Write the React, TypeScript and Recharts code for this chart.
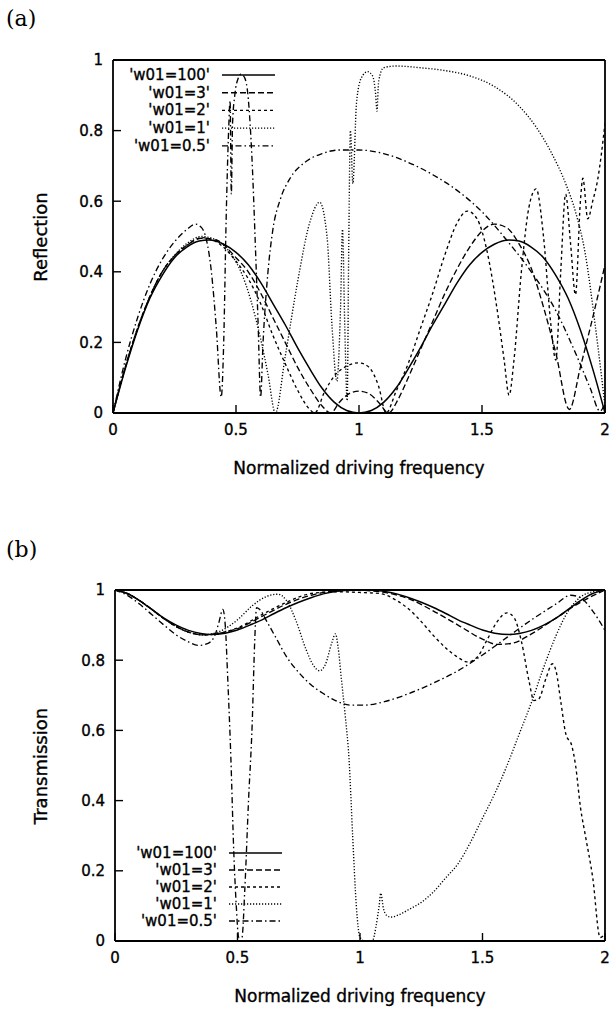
import { LineChart, Line, XAxis, YAxis } from "recharts";

type Pt = [number, number];

const freqTicks = [0, 0.5, 1, 1.5, 2];
const levelTicks = [0, 0.2, 0.4, 0.6, 0.8, 1];
const seriesNames = ["'w01=100'", "'w01=3'", "'w01=2'", "'w01=1'", "'w01=0.5'"];

// reflection, panel (a)
const reflW100: Pt[] = [
  [0, 0], [0.05, 0.125], [0.1, 0.235], [0.15, 0.325], [0.2, 0.39], [0.25, 0.44], [0.3, 0.47],
  [0.35, 0.487], [0.39, 0.49], [0.45, 0.478], [0.5, 0.455], [0.55, 0.42], [0.6, 0.37], [0.65, 0.31],
  [0.7, 0.25], [0.75, 0.185], [0.8, 0.125], [0.85, 0.07], [0.9, 0.03], [0.95, 0.007], [1, 0],
  [1.05, 0.007], [1.1, 0.03], [1.15, 0.07], [1.2, 0.125], [1.25, 0.185], [1.3, 0.25], [1.35, 0.31],
  [1.4, 0.37], [1.45, 0.42], [1.5, 0.455], [1.55, 0.478], [1.61, 0.49], [1.65, 0.487], [1.7, 0.47],
  [1.75, 0.44], [1.8, 0.39], [1.85, 0.325], [1.9, 0.235], [1.95, 0.125], [2, 0],
];
const reflW3: Pt[] = [
  [0, 0], [0.05, 0.13], [0.1, 0.24], [0.15, 0.33], [0.2, 0.4], [0.25, 0.445], [0.3, 0.475],
  [0.36, 0.495], [0.42, 0.49], [0.5, 0.44], [0.55, 0.4], [0.6, 0.34], [0.65, 0.27], [0.7, 0.2],
  [0.75, 0.13], [0.8, 0.07], [0.85, 0.02], [0.885, 0], [0.92, 0.03], [0.96, 0.055], [1, 0.062],
  [1.04, 0.055], [1.08, 0.03], [1.12, 0], [1.16, 0.04], [1.2, 0.1], [1.25, 0.18], [1.3, 0.26],
  [1.35, 0.34], [1.4, 0.41], [1.45, 0.47], [1.5, 0.515], [1.55, 0.535], [1.6, 0.525], [1.65, 0.48],
  [1.7, 0.41], [1.75, 0.3], [1.8, 0.17], [1.855, 0.01], [1.9, 0.13], [1.95, 0.27], [2, 0.42],
];
const reflW2: Pt[] = [
  [0, 0], [0.05, 0.13], [0.1, 0.24], [0.15, 0.33], [0.2, 0.4], [0.25, 0.445], [0.3, 0.475],
  [0.36, 0.497], [0.42, 0.485], [0.5, 0.43], [0.55, 0.38], [0.6, 0.31], [0.65, 0.22], [0.7, 0.14],
  [0.75, 0.065], [0.8, 0.01], [0.82, 0], [0.86, 0.06], [0.9, 0.105], [0.95, 0.133], [1, 0.142],
  [1.04, 0.13], [1.08, 0.075], [1.11, 0], [1.15, 0.06], [1.2, 0.14], [1.25, 0.24], [1.3, 0.34],
  [1.35, 0.45], [1.4, 0.54], [1.44, 0.572], [1.48, 0.55], [1.52, 0.46], [1.56, 0.3], [1.59, 0.15],
  [1.61, 0.05], [1.63, 0.15], [1.66, 0.4], [1.69, 0.58], [1.72, 0.635], [1.75, 0.5], [1.78, 0.25],
  [1.8, 0.15], [1.82, 0.4], [1.84, 0.62], [1.86, 0.48], [1.88, 0.335], [1.9, 0.6], [1.91, 0.665],
  [1.93, 0.55], [1.95, 0.6], [1.97, 0.66], [2, 0.82],
];
const reflW1: Pt[] = [
  [0, 0], [0.05, 0.13], [0.1, 0.24], [0.15, 0.33], [0.2, 0.4], [0.25, 0.447], [0.3, 0.48],
  [0.36, 0.5], [0.42, 0.49], [0.48, 0.45], [0.52, 0.4], [0.56, 0.32], [0.6, 0.21], [0.63, 0.11],
  [0.66, 0], [0.7, 0.16], [0.75, 0.37], [0.8, 0.54], [0.84, 0.597], [0.87, 0.5], [0.89, 0.25],
  [0.91, 0.09], [0.925, 0.3], [0.933, 0.52], [0.942, 0.25], [0.952, 0.035], [0.958, 0.45],
  [0.965, 0.8], [0.975, 0.65], [0.99, 0.88], [1.01, 0.95], [1.035, 0.967], [1.055, 0.955],
  [1.068, 0.9], [1.073, 0.855], [1.08, 0.94], [1.1, 0.978], [1.15, 0.983], [1.25, 0.978],
  [1.35, 0.97], [1.45, 0.955], [1.55, 0.925], [1.65, 0.87], [1.72, 0.81], [1.78, 0.74],
  [1.84, 0.65], [1.88, 0.57], [1.92, 0.45], [1.96, 0.25], [2, 0.02],
];
const reflW05: Pt[] = [
  [0, 0], [0.05, 0.15], [0.1, 0.27], [0.15, 0.365], [0.2, 0.435], [0.25, 0.485], [0.3, 0.52],
  [0.335, 0.535], [0.36, 0.525], [0.38, 0.49], [0.4, 0.4], [0.42, 0.24], [0.44, 0.045], [0.45, 0.2],
  [0.46, 0.55], [0.47, 0.8], [0.476, 0.885], [0.481, 0.62], [0.486, 0.82], [0.495, 0.9], [0.51, 0.95],
  [0.52, 0.96], [0.535, 0.95], [0.55, 0.89], [0.565, 0.72], [0.58, 0.45], [0.59, 0.25], [0.6, 0.045],
  [0.61, 0.2], [0.63, 0.4], [0.65, 0.52], [0.68, 0.605], [0.72, 0.665], [0.78, 0.71], [0.85, 0.735],
  [0.92, 0.745], [1, 0.745], [1.1, 0.735], [1.2, 0.71], [1.3, 0.675], [1.4, 0.63], [1.5, 0.57],
  [1.6, 0.49], [1.7, 0.4], [1.8, 0.29], [1.88, 0.17], [1.94, 0.07], [1.98, 0.005], [2, 0.03],
];

// transmission, panel (b)
const transW100: Pt[] = [
  [0, 1], [0.05, 0.99], [0.1, 0.97], [0.15, 0.945], [0.2, 0.92], [0.25, 0.9], [0.3, 0.885],
  [0.35, 0.876], [0.39, 0.873], [0.45, 0.877], [0.5, 0.886], [0.55, 0.9], [0.6, 0.915], [0.65, 0.933],
  [0.7, 0.95], [0.75, 0.965], [0.8, 0.978], [0.85, 0.989], [0.9, 0.996], [0.95, 0.999], [1, 1],
  [1.05, 0.999], [1.1, 0.996], [1.15, 0.989], [1.2, 0.978], [1.25, 0.965], [1.3, 0.95], [1.35, 0.933],
  [1.4, 0.915], [1.45, 0.9], [1.5, 0.886], [1.55, 0.877], [1.61, 0.873], [1.65, 0.876], [1.7, 0.885],
  [1.75, 0.9], [1.8, 0.92], [1.85, 0.945], [1.9, 0.97], [1.95, 0.99], [2, 1],
];
const transW3: Pt[] = [
  [0, 1], [0.05, 0.99], [0.1, 0.97], [0.15, 0.945], [0.2, 0.918], [0.25, 0.896], [0.3, 0.88],
  [0.36, 0.872], [0.42, 0.876], [0.5, 0.89], [0.6, 0.925], [0.7, 0.96], [0.8, 0.985], [0.9, 0.997],
  [1, 0.999], [1.1, 0.993], [1.2, 0.975], [1.3, 0.94], [1.4, 0.9], [1.5, 0.86], [1.56, 0.845],
  [1.62, 0.848], [1.7, 0.875], [1.8, 0.92], [1.9, 0.965], [2, 1],
];
const transW2: Pt[] = [
  [0, 1], [0.05, 0.99], [0.1, 0.97], [0.15, 0.945], [0.2, 0.918], [0.25, 0.896], [0.3, 0.88],
  [0.36, 0.872], [0.42, 0.876], [0.5, 0.892], [0.6, 0.93], [0.7, 0.965], [0.8, 0.99], [0.9, 0.995],
  [1, 0.993], [1.08, 0.99], [1.15, 0.97], [1.2, 0.945], [1.25, 0.91], [1.3, 0.87], [1.35, 0.835],
  [1.4, 0.808], [1.44, 0.795], [1.48, 0.81], [1.52, 0.86], [1.56, 0.91], [1.6, 0.935], [1.63, 0.92],
  [1.66, 0.85], [1.69, 0.74], [1.71, 0.685], [1.73, 0.69], [1.76, 0.75], [1.785, 0.79], [1.8, 0.77],
  [1.82, 0.68], [1.84, 0.59], [1.865, 0.555], [1.88, 0.5], [1.9, 0.38], [1.92, 0.3], [1.95, 0.18],
  [1.98, 0.01], [2, 0.02],
];
const transW1: Pt[] = [
  [0, 1], [0.05, 0.99], [0.1, 0.97], [0.15, 0.945], [0.2, 0.918], [0.25, 0.896], [0.3, 0.88],
  [0.36, 0.872], [0.42, 0.88], [0.5, 0.915], [0.56, 0.955], [0.62, 0.982], [0.665, 0.988], [0.7, 0.97],
  [0.74, 0.91], [0.78, 0.83], [0.81, 0.785], [0.835, 0.77], [0.86, 0.79], [0.885, 0.85], [0.9, 0.875],
  [0.91, 0.84], [0.925, 0.74], [0.94, 0.64], [0.955, 0.52], [0.97, 0.3], [0.985, 0.1], [1, 0.01],
  [1.02, 0], [1.05, 0], [1.065, 0.04], [1.078, 0.1], [1.085, 0.136], [1.095, 0.095], [1.11, 0.072],
  [1.125, 0.068], [1.16, 0.075], [1.2, 0.09], [1.25, 0.11], [1.3, 0.14], [1.35, 0.18], [1.4, 0.22],
  [1.45, 0.28], [1.5, 0.35], [1.55, 0.42], [1.6, 0.5], [1.65, 0.59], [1.7, 0.68], [1.75, 0.78],
  [1.8, 0.87], [1.85, 0.94], [1.9, 0.98], [1.95, 0.995], [2, 1],
];
const transW05: Pt[] = [
  [0, 1], [0.05, 0.985], [0.1, 0.96], [0.15, 0.93], [0.2, 0.9], [0.25, 0.872], [0.3, 0.852],
  [0.34, 0.842], [0.38, 0.848], [0.41, 0.875], [0.425, 0.91], [0.44, 0.945], [0.45, 0.9], [0.46, 0.75],
  [0.473, 0.52], [0.485, 0.25], [0.495, 0.1], [0.505, 0.01], [0.518, 0.01], [0.53, 0.15], [0.545, 0.4],
  [0.56, 0.62], [0.57, 0.85], [0.578, 0.95], [0.59, 0.945], [0.62, 0.91], [0.66, 0.86], [0.7, 0.81],
  [0.75, 0.765], [0.8, 0.73], [0.85, 0.705], [0.9, 0.685], [0.96, 0.672], [1.02, 0.672], [1.1, 0.682],
  [1.2, 0.705], [1.3, 0.735], [1.4, 0.77], [1.5, 0.815], [1.6, 0.865], [1.7, 0.915], [1.8, 0.96],
  [1.86, 0.985], [1.9, 0.978], [1.95, 0.94], [2, 0.885],
];

const dashes = ["", "6 3", "3 3", "1.2 1.8", "6 3 1.5 3"];
const sans = "'DejaVu Sans', sans-serif";
const toRows = (pts: Pt[]) => pts.map(([f, v]) => ({ f, v }));
const tickStyle = { fill: "#000", stroke: "#000", strokeWidth: 0.35, fontSize: 15, fontFamily: sans };

type PanelProps = {
  top: number;
  series: Pt[][];
  plotLeft: number;
  bottomMargin: number;
  legendX: number;
  legendY: number;
  legendStep: number;
};

const Panel = ({ top, series, plotLeft, bottomMargin, legendX, legendY, legendStep }: PanelProps) => (
  <div style={{ position: "absolute", left: 0, top, width: 611, height: 450 }}>
    <LineChart width={611} height={450} margin={{ top: 59, right: 5, bottom: bottomMargin, left: 0 }}>
      <XAxis
        xAxisId="b"
        type="number"
        dataKey="f"
        domain={[0, 2]}
        ticks={freqTicks}
        allowDataOverflow
        height={30}
        tickSize={-8}
        tickMargin={19}
        axisLine={{ stroke: "#000", strokeWidth: 1.8 }}
        tickLine={{ stroke: "#000", strokeWidth: 1.4 }}
        tick={tickStyle}
      />
      <XAxis
        xAxisId="t"
        orientation="top"
        type="number"
        dataKey="f"
        domain={[0, 2]}
        ticks={freqTicks}
        allowDataOverflow
        height={1}
        tickSize={-8}
        tick={false}
        axisLine={{ stroke: "#000", strokeWidth: 1.8 }}
        tickLine={{ stroke: "#000", strokeWidth: 1.4 }}
      />
      <YAxis
        yAxisId="l"
        type="number"
        domain={[0, 1]}
        ticks={levelTicks}
        allowDataOverflow
        width={plotLeft}
        tickSize={-8}
        tickMargin={18}
        axisLine={{ stroke: "#000", strokeWidth: 1.8 }}
        tickLine={{ stroke: "#000", strokeWidth: 1.4 }}
        tick={tickStyle}
      />
      <YAxis
        yAxisId="r"
        orientation="right"
        type="number"
        domain={[0, 1]}
        ticks={levelTicks}
        allowDataOverflow
        width={1}
        tickSize={-8}
        tick={false}
        axisLine={{ stroke: "#000", strokeWidth: 1.8 }}
        tickLine={{ stroke: "#000", strokeWidth: 1.4 }}
      />
      {series.map((pts, i) => (
        <Line
          key={seriesNames[i]}
          xAxisId="b"
          yAxisId="l"
          data={toRows(pts)}
          dataKey="v"
          type="monotone"
          stroke="#000"
          strokeWidth={i === 0 ? 1.5 : 1.35}
          strokeDasharray={dashes[i]}
          dot={false}
          activeDot={false}
          isAnimationActive={false}
        />
      ))}
    </LineChart>
    <svg width={611} height={450} style={{ position: "absolute", left: 0, top: 0, pointerEvents: "none" }}>
      {seriesNames.map((name, i) => (
        <g key={name}>
          <text
            x={legendX}
            y={legendY + i * legendStep}
            textAnchor="end"
            dominantBaseline="central"
            fontFamily="DejaVu Sans"
            fontSize={15}
            fill="#000"
            stroke="#000"
            strokeWidth={0.35}
          >
            {name}
          </text>
          <line
            x1={legendX + 12}
            x2={legendX + 65}
            y1={legendY + i * legendStep}
            y2={legendY + i * legendStep}
            stroke="#000"
            strokeWidth={i === 0 ? 1.5 : 1.35}
            strokeDasharray={dashes[i]}
          />
        </g>
      ))}
    </svg>
  </div>
);

const textBase: React.CSSProperties = {
  position: "absolute",
  color: "#000",
  whiteSpace: "nowrap",
  WebkitTextStroke: "0.35px #000",
};

export default function App() {
  return (
    <div style={{ position: "absolute", left: 0, top: 0, width: 611, height: 1011, background: "#fff" }}>
      <div style={{ ...textBase, left: 6, top: 6, fontFamily: "'DejaVu Serif', serif", fontSize: 22, WebkitTextStroke: "0" }}>(a)</div>
      <div style={{ ...textBase, left: 6, top: 537, fontFamily: "'DejaVu Serif', serif", fontSize: 22, WebkitTextStroke: "0" }}>(b)</div>

      <Panel
        top={0}
        series={[reflW100, reflW3, reflW2, reflW1, reflW05]}
        plotLeft={113}
        bottomMargin={7}
        legendX={210}
        legendY={75}
        legendStep={17.7}
      />
      <Panel
        top={530}
        series={[transW100, transW3, transW2, transW1, transW05]}
        plotLeft={115}
        bottomMargin={9}
        legendX={217}
        legendY={323}
        legendStep={17}
      />

      <div style={{ ...textBase, left: 359, top: 468, transform: "translate(-50%, -50%)", fontFamily: sans, fontSize: 17 }}>
        Normalized driving frequency
      </div>
      <div style={{ ...textBase, left: 360, top: 996, transform: "translate(-50%, -50%)", fontFamily: sans, fontSize: 17 }}>
        Normalized driving frequency
      </div>
      <div style={{ ...textBase, left: 40, top: 237, transform: "translate(-50%, -50%) rotate(-90deg)", fontFamily: sans, fontSize: 18 }}>
        Reflection
      </div>
      <div style={{ ...textBase, left: 40, top: 766, transform: "translate(-50%, -50%) rotate(-90deg)", fontFamily: sans, fontSize: 18 }}>
        Transmission
      </div>
    </div>
  );
}
